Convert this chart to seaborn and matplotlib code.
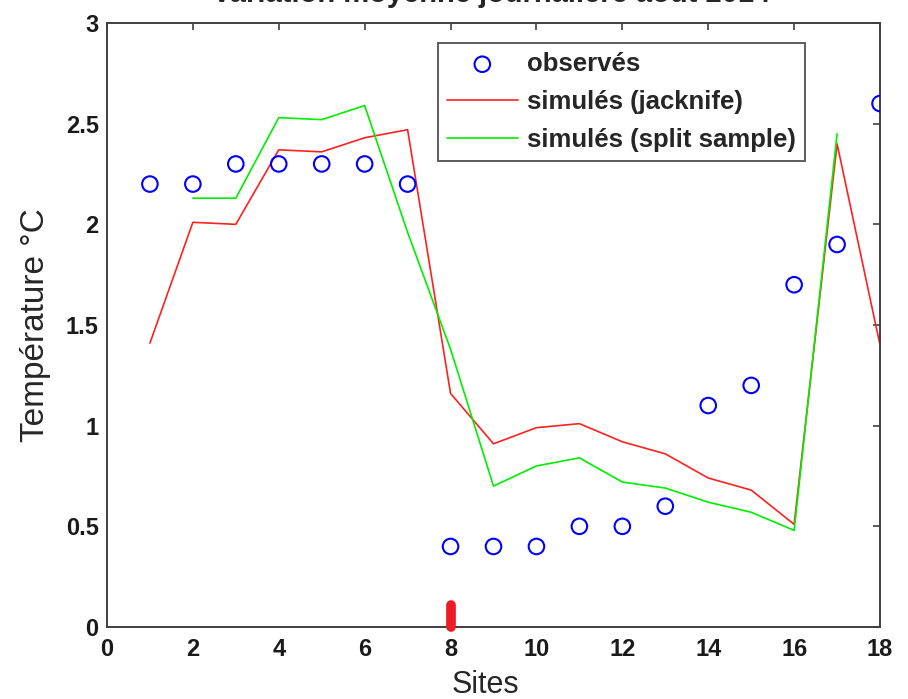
import matplotlib
matplotlib.use("Agg")
import matplotlib.pyplot as plt
import numpy as np
import pandas as pd
import seaborn as sns

# Mean daily temperature variation per site
sites = list(range(1, 19))
observes = [2.2, 2.2, 2.3, 2.3, 2.3, 2.3, 2.2, 0.4, 0.4, 0.4, 0.5, 0.5, 0.6, 1.1, 1.2, 1.7, 1.9, 2.6]
jacknife = [1.41, 2.01, 2.00, 2.37, 2.36, 2.43, 2.47, 1.16, 0.91, 0.99, 1.01, 0.92, 0.86, 0.74, 0.68, 0.51, 2.40, 1.40]
split_sample = [np.nan, 2.13, 2.13, 2.53, 2.52, 2.59, 1.96, 1.38, 0.70, 0.80, 0.84, 0.72, 0.69, 0.62, 0.57, 0.48, 2.45, np.nan]

marked_site = [8]
marked_height = [0.11]

x_ticks = [0, 2, 4, 6, 8, 10, 12, 14, 16, 18]
y_ticks = [0, 0.5, 1, 1.5, 2, 2.5, 3]
y_ticklabels = ["0", "0.5", "1", "1.5", "2", "2.5", "3"]

title = "Variation moyenne journalière août 2014"
labels = ["observés", "simulés (jacknife)", "simulés (split sample)"]

df = pd.DataFrame({"site": sites, "obs": observes, "jack": jacknife, "split": split_sample})

sns.set_style("white")
plt.rcParams["font.family"] = ["Liberation Sans", "DejaVu Sans"]

fig = plt.figure(figsize=(9.08, 6.99), dpi=100)
ax = fig.add_axes([0.1178, 0.1030, 0.8514, 0.8641])

sns.scatterplot(data=df, x="site", y="obs", ax=ax, marker="o", s=125,
                facecolor="none", edgecolor="#0000ff", linewidth=1.5,
                label=labels[0], zorder=4)
sns.lineplot(data=df, x="site", y="jack", ax=ax, color="#ff2020", linewidth=1.2,
             label=labels[1], zorder=2)
sns.lineplot(data=df, x="site", y="split", ax=ax, color="#00ee00", linewidth=1.2,
             label=labels[2], zorder=3)

# site marker on the x axis
for s, h in zip(marked_site, marked_height):
    ax.plot([s, s], [0, h], color="#ee1c24", linewidth=7, solid_capstyle="round",
            clip_on=False, zorder=5)

ax.set_xlim(0, 18)
ax.set_ylim(0, 3)
ax.set_xticks(x_ticks)
ax.set_xticklabels([str(t) for t in x_ticks])
ax.set_yticks(y_ticks)
ax.set_yticklabels(y_ticklabels)
ax.tick_params(axis="both", which="both", direction="in", length=5, width=1.2,
               color="#404040", top=True, right=True, labelsize=17)
ax.tick_params(axis="x", pad=8)
ax.tick_params(axis="y", pad=6)
for lab in ax.get_xticklabels() + ax.get_yticklabels():
    lab.set_fontweight("bold")
    lab.set_color("#1a1a1a")
for sp in ax.spines.values():
    sp.set_visible(True)
    sp.set_color("#404040")
    sp.set_linewidth(1.4)

ax.set_xlabel("Sites", fontsize=22)
ax.set_ylabel("Température °C", fontsize=24)
ax.xaxis.set_label_coords(0.49, -0.071)
ax.yaxis.set_label_coords(-0.072, 0.5)
fig.text(0.541, 1 - 2 / 699, title, ha="center", va="baseline", fontsize=21,
         fontweight="bold")

leg = ax.legend(loc="upper left", bbox_to_anchor=(0.4282, 0.9669), frameon=True,
                fancybox=False, prop={"weight": "bold", "size": 18.5},
                handlelength=2.75, handletextpad=0.35, borderpad=0.35,
                labelspacing=0.55, borderaxespad=0)
leg.get_frame().set_edgecolor("#333333")
leg.get_frame().set_linewidth(1.4)

fig.savefig("out.png", dpi=100)
